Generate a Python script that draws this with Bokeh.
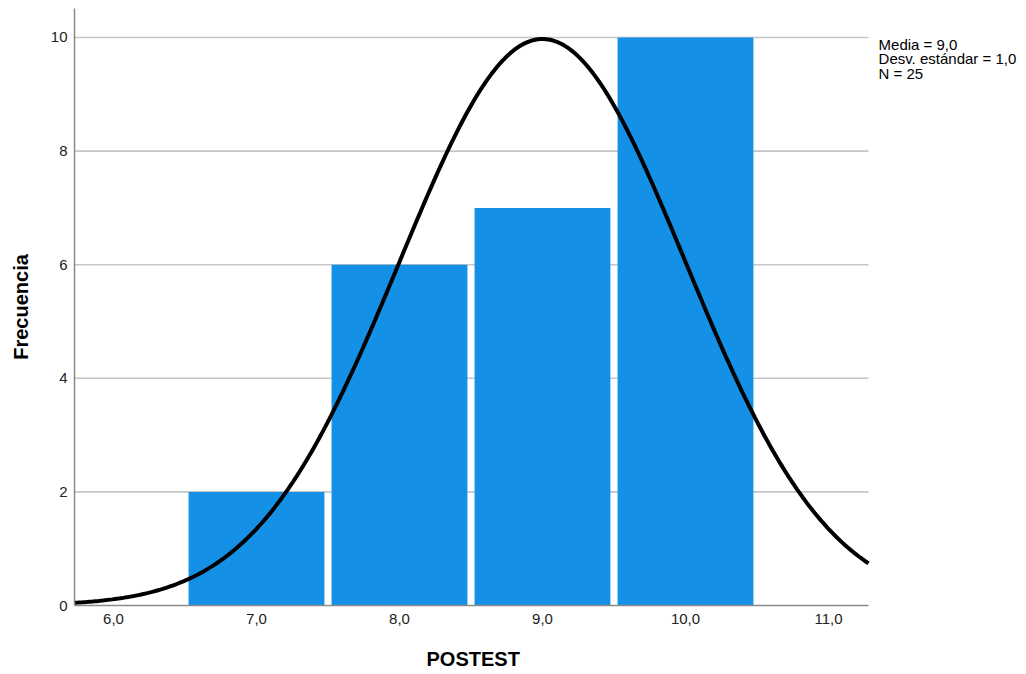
import numpy as np
from bokeh.plotting import figure
from bokeh.models import FixedTicker, Range1d, Label, ColumnDataSource, Title, LinearAxis
from bokeh.embed import file_html
from bokeh.resources import INLINE

# Data
bin_centers = [7.0, 8.0, 9.0, 10.0]
frequencies = [2, 6, 7, 10]
mean_val = 9.0
sd_val = 1.0
n_val = 25
x_ticks = [6, 7, 8, 9, 10, 11]
x_tick_labels = ["6,0", "7,0", "8,0", "9,0", "10,0", "11,0"]
y_ticks = [0, 2, 4, 6, 8, 10]
stats_lines = ["Media = 9,0", "Desv. estándar = 1,0", "N = 25"]
x_title = "POSTEST"
y_title = "Frecuencia"

FONT = "Liberation Sans"
x_min, x_max = 5.7273, 11.2797   # plotted data extent
view_max = 12.3427                # extra room on the right for the stats text

p = figure(width=1020, height=674, output_backend="svg", toolbar_location=None,
           x_range=Range1d(x_min, view_max), y_range=Range1d(0, 10.51),
           min_border_left=74, min_border_right=0, min_border_top=8, min_border_bottom=69)
p.outline_line_color = None
p.background_fill_color = "white"
p.xgrid.grid_line_color = None
p.ygrid.grid_line_color = None

# horizontal reference lines (grid) limited to the data extent
gy = y_ticks[1:]
p.segment(x0=[x_min] * len(gy), x1=[x_max] * len(gy), y0=gy, y1=gy,
          line_color="#c6c6c6", line_width=1.6)

# bars
src = ColumnDataSource(dict(x=bin_centers, top=frequencies))
p.vbar(x="x", top="top", width=0.95, bottom=0, source=src,
       fill_color="#1490E6", line_color=None)

# normal curve from the stats
xs = np.linspace(x_min, x_max, 400)
ys = n_val * 1.0 / (sd_val * np.sqrt(2 * np.pi)) * np.exp(-0.5 * ((xs - mean_val) / sd_val) ** 2)
p.line(xs, ys, line_color="black", line_width=4)

# axes
for ax in (p.xaxis[0], p.yaxis[0]):
    ax.axis_line_color = "#8a8a8a"
    ax.axis_line_width = 1.5
    ax.major_tick_line_color = None
    ax.minor_tick_line_color = None
    ax.major_tick_out = 0
    ax.major_tick_in = 0
    ax.minor_tick_out = 0
    ax.minor_tick_in = 0
    ax.major_label_text_font = FONT
    ax.major_label_text_font_size = "15px"
    ax.major_label_text_color = "#222222"
    ax.axis_label_text_font = FONT
    ax.axis_label_text_font_size = "20px"
    ax.axis_label_text_font_style = "bold"
    ax.axis_label_text_color = "black"

p.xaxis.ticker = FixedTicker(ticks=x_ticks)
p.xaxis.bounds = (x_min, x_max)
p.xaxis.major_label_overrides = {t: l for t, l in zip(x_ticks, x_tick_labels)}
p.xaxis.major_label_standoff = 8

# invisible spacer axis to push the x title down
spacer = LinearAxis(ticker=FixedTicker(ticks=[x_ticks[0]]), axis_line_color=None,
                    major_tick_line_color=None, minor_tick_line_color=None,
                    major_tick_out=19, major_tick_in=0, minor_tick_out=0, minor_tick_in=0,
                    major_label_standoff=0, major_label_text_color=None,
                    major_label_text_font_size="1px")
p.add_layout(spacer, "below")

# x title, centred under the data extent rather than the whole frame
p.add_layout(Title(text=x_title, align="left", offset=352, standoff=0,
                   vertical_align="bottom",
                   text_font=FONT, text_font_size="20px", text_font_style="bold",
                   text_color="black"), "below")

p.yaxis.ticker = FixedTicker(ticks=y_ticks)
p.yaxis.major_label_standoff = 7
p.yaxis.axis_label = y_title
p.yaxis.axis_label_standoff = 16

# stats text
for i, t in enumerate(stats_lines):
    p.add_layout(Label(x=11.35, y=9.88 - i * 0.255, text=t, text_font=FONT,
                       text_font_size="15px", text_color="black",
                       text_baseline="middle", text_align="left"))

open("out.html", "w").write(file_html(p, INLINE))
